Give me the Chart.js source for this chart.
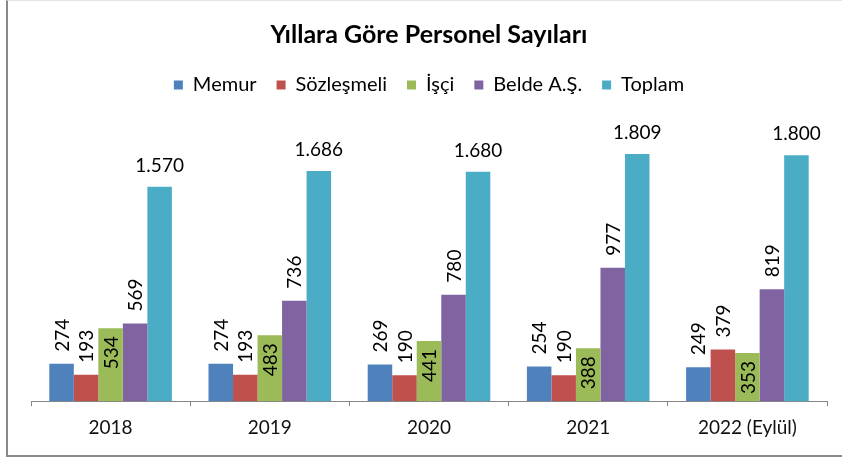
<!DOCTYPE html>
<html lang="tr">
<head>
<meta charset="utf-8">
<title>Yıllara Göre Personel Sayıları</title>
<script src="https://cdn.jsdelivr.net/npm/chart.js@4"></script>
<style>
  html, body { margin: 0; padding: 0; background: #fff; }
  #wrap { position: relative; width: 842px; height: 459px; overflow: hidden; }
  #frame {
    position: absolute; left: 6px; top: 0; width: 900px; height: 454px;
    border-left: 2px solid #8a8a8a; border-bottom: 2px solid #8a8a8a;
    border-top: 1px solid #e4e4e4;
  }
  #chart { position: absolute; left: 0; top: 0; }
</style>
</head>
<body>
<div id="wrap">
  <div id="frame"></div>
  <canvas id="chart" width="842" height="459"></canvas>
</div>
<script>
const years = ['2018', '2019', '2020', '2021', '2022 (Eylül)'];
const memur = [274, 274, 269, 254, 249];
const sozlesmeli = [193, 193, 190, 190, 379];
const isci = [534, 483, 441, 388, 353];
const belde = [569, 736, 780, 977, 819];
const toplam = [1570, 1686, 1680, 1809, 1800];

const FONT = 'Lato, "Open Sans", sans-serif';

function fmt(v) {
  // Turkish thousands separator
  return String(v).replace(/\B(?=(\d{3})+(?!\d))/g, '.');
}

// value labels like Excel: rotated above bar, rotated inside end (İşçi), horizontal for Toplam
const valueLabels = {
  id: 'valueLabels',
  afterDatasetsDraw(chart) {
    const ctx = chart.ctx;
    ctx.save();
    ctx.fillStyle = '#000';
    ctx.font = '19px ' + FONT;
    chart.data.datasets.forEach((ds, i) => {
      const meta = chart.getDatasetMeta(i);
      meta.data.forEach((bar, j) => {
        const txt = fmt(ds.data[j]);
        if (i === 4) {
          ctx.textAlign = 'center';
          ctx.textBaseline = 'alphabetic';
          ctx.fillText(txt, bar.x, bar.y - 15);
        } else {
          ctx.save();
          ctx.textBaseline = 'middle';
          if (i === 2) {
            ctx.translate(bar.x + 1, bar.y + 8);
            ctx.rotate(-Math.PI / 2);
            ctx.textAlign = 'right';
          } else {
            ctx.translate(bar.x + 1, bar.y - 12);
            ctx.rotate(-Math.PI / 2);
            ctx.textAlign = 'left';
          }
          ctx.fillText(txt, 0, 0);
          ctx.restore();
        }
      });
    });
    ctx.restore();
  }
};

// extra room under the legend
const legendGap = {
  id: 'legendGap',
  beforeInit(chart) {
    const fit = chart.legend.fit;
    chart.legend.fit = function () {
      fit.bind(chart.legend)();
      this.height += 23;
    };
  }
};

new Chart(document.getElementById('chart').getContext('2d'), {
  type: 'bar',
  data: {
    labels: years,
    datasets: [
      { label: 'Memur', data: memur, backgroundColor: '#4F81BD' },
      { label: 'Sözleşmeli', data: sozlesmeli, backgroundColor: '#C0504D' },
      { label: 'İşçi', data: isci, backgroundColor: '#9BBB59' },
      { label: 'Belde A.Ş.', data: belde, backgroundColor: '#8064A2' },
      { label: 'Toplam', data: toplam, backgroundColor: '#4BACC6' }
    ]
  },
  options: {
    responsive: false,
    animation: false,
    datasets: { bar: { categoryPercentage: 0.77, barPercentage: 1.0 } },
    layout: { padding: { top: 20, left: 31, right: 15, bottom: 10 } },
    plugins: {
      title: {
        display: true,
        text: 'Yıllara Göre Personel Sayıları',
        color: '#000',
        font: { family: FONT, size: 25, weight: 'bold' },
        padding: { top: 0, bottom: 5 }
      },
      legend: {
        position: 'top',
        labels: {
          color: '#000',
          font: { family: FONT, size: 20 },
          boxWidth: 9,
          boxHeight: 9,
          padding: 20
        }
      },
      tooltip: { enabled: false }
    },
    scales: {
      x: {
        grid: {
          display: true,
          drawOnChartArea: false,
          drawTicks: true,
          tickLength: 5,
          color: '#868686'
        },
        border: { display: true, color: '#868686', width: 1 },
        ticks: {
          color: '#111',
          font: { family: FONT, size: 19 },
          padding: 10
        }
      },
      y: {
        display: false,
        min: 0,
        max: 2000
      }
    }
  },
  plugins: [valueLabels, legendGap]
});
</script>
</body>
</html>
